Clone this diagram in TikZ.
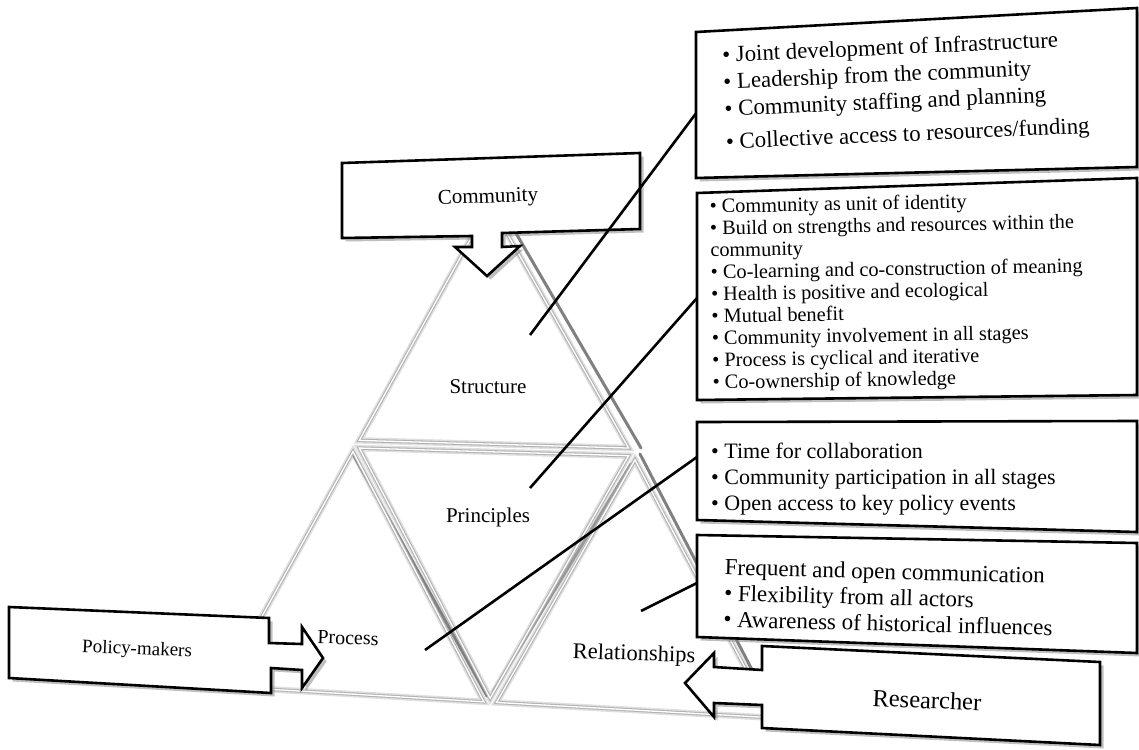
\documentclass[tikz,border=0pt]{standalone}
\usepackage{fontspec}
\setmainfont{Liberation Serif}
\usetikzlibrary{calc,shadows}
\begin{document}
\begin{tikzpicture}[x=1pt,y=-1pt,
  box/.style={draw=black, line width=2.6pt, fill=white, line join=miter,
    drop shadow={shadow xshift=3.5pt, shadow yshift=-3.5pt, fill=black!50, opacity=0.5}},
  conn/.style={line width=2.6pt, line cap=butt},
  lbl/.style={inner sep=0pt},
  list/.style={align=left, inner sep=0pt, anchor=west},
  bevelshadow/.style={draw=black!12, line width=6.5pt, line join=miter},
  bevelmid/.style={draw=black!30, line width=3.4pt, line join=miter},
  bevel/.style={draw=white, line width=1.3pt, line join=miter},
  shade/.style={draw=black!50, line width=3pt, line cap=round},
]
\useasboundingbox (0,0) rectangle (1139,749);
\fill[white] (0,0) rectangle (1139,749);

% pyramid corners
\coordinate (A) at (490,196);
\coordinate (L) at (353,444);
\coordinate (R) at (635,452);
\coordinate (BL) at (217,690);
\coordinate (BM) at (490,706);
\coordinate (BR) at (778,722);
\coordinate (G1) at (barycentric cs:A=1,L=1,R=1);
\coordinate (G2) at (barycentric cs:L=1,BL=1,BM=1);
\coordinate (G3) at (barycentric cs:L=1,R=1,BM=1);
\coordinate (G4) at (barycentric cs:R=1,BM=1,BR=1);

\foreach \g/\p/\q/\s in {G1/A/L/R, G2/L/BL/BM, G3/L/R/BM, G4/R/BM/BR} {
  \draw[bevelshadow] ($(\g)!0.955!(\p)$) -- ($(\g)!0.955!(\q)$) -- ($(\g)!0.955!(\s)$) -- cycle;
}
% darker shading bands
\draw[shade] ($(A)+(9,8)$) -- ($(R)+(6,-4)$);
\draw[shade] ($(R)+(5,2)$) -- ($(BR)+(-2,-6)$);
\draw[shade] ($(L)+(0,10)$) -- ($(BM)+(-3,-10)$);
\draw[shade, black!40] ($(R)+(-4,12)$) -- ($(BM)+(3,-14)$);
\foreach \g/\p/\q/\s in {G1/A/L/R, G2/L/BL/BM, G3/L/R/BM, G4/R/BM/BR} {
  \draw[bevelmid] ($(\g)!0.955!(\p)$) -- ($(\g)!0.955!(\q)$) -- ($(\g)!0.955!(\s)$) -- cycle;
  \draw[bevel] ($(\g)!0.955!(\p)$) -- ($(\g)!0.955!(\q)$) -- ($(\g)!0.955!(\s)$) -- cycle;
}

% actor arrows
\draw[box] (342,163) -- (640,153) -- (640,229) -- (502,233) -- (502,247) -- (520,246)
  -- (487,276) -- (455,247) -- (472,247) -- (472,236) -- (342,238) -- cycle;
\draw[box] (9,607) -- (269,618) -- (269,643) -- (302,644) -- (302,627) -- (323,658)
  -- (302,688) -- (302,670) -- (271,668) -- (271,693) -- (9,678) -- cycle;
\draw[box] (685,683) -- (714,653) -- (714,667) -- (762,670) -- (762,646) -- (1100,662)
  -- (1100,745) -- (762,728) -- (762,705) -- (714,703) -- (714,717) -- cycle;

% connectors
\coordinate (s1) at (530,335); \coordinate (e1) at (697,112);
\coordinate (s2) at (530,488); \coordinate (e2) at (697,298);
\coordinate (s3) at (425,650); \coordinate (e3) at (697,457);
\coordinate (s4) at (641,611); \coordinate (e4) at (697,583);
\draw[conn] (s1) -- (e1);
\draw[conn] (s2) -- (e2);
\draw[conn] (s3) -- (e3);
\draw[conn] (s4) -- (e4);

% text boxes
\draw[box] (696,32) -- (1137,8) -- (1137,167) -- (696,178) -- cycle;
\draw[box] (697,193) -- (1137,178) -- (1137,395) -- (697,400) -- cycle;
\draw[box] (697,422) -- (1137,421) -- (1137,532) -- (697,520) -- cycle;
\draw[box] (697,535) -- (1137,543) -- (1137,653) -- (697,637) -- cycle;

% labels
\node[lbl, font=\fontsize{21}{25}\selectfont, rotate=2] (community) at (488,198) {Community};
\node[lbl, font=\fontsize{21}{25}\selectfont] (structure) at (488,387) {Structure};
\node[lbl, font=\fontsize{21}{25}\selectfont] (principles) at (488,517) {Principles};
\node[lbl, font=\fontsize{20}{24}\selectfont, rotate=-1.5] (process) at (348,638) {Process};
\node[lbl, font=\fontsize{19}{23}\selectfont, rotate=-2.5] (policy) at (137,650) {Policy-makers};
\node[lbl, font=\fontsize{22.5}{26}\selectfont, rotate=-2] (relationships) at (634,655) {Relationships};
\node[lbl, font=\fontsize{24.5}{28}\selectfont, rotate=-2.5] (researcher) at (927,700) {Researcher};

\node[list, font=\fontsize{22.8}{27}\selectfont, rotate=2.5] (t1) at (724,100)
  {• Joint development of Infrastructure\\ • Leadership from the community\\
   • Community staffing and planning\\[6pt] • Collective access to resources/funding};
\node[list, font=\fontsize{20.3}{22}\selectfont, rotate=1] (t2) at (711,296)
  {• Community as unit of identity\\ • Build on strengths and resources within the\\
   community\\ • Co-learning and co-construction of meaning\\ • Health is positive and ecological\\
   • Mutual benefit\\ • Community involvement in all stages\\ • Process is cyclical and iterative\\
   • Co-ownership of knowledge};
\node[list, font=\fontsize{22}{26}\selectfont] (t3) at (711,479)
  {• Time for collaboration\\ • Community participation in all stages\\ • Open access to key policy events};
\node[list, font=\fontsize{23}{26}\selectfont, rotate=-1.5] (t4) at (724,593)
  {Frequent and open communication\\ • Flexibility from all actors\\ • Awareness of historical influences};
\end{tikzpicture}
\end{document}
